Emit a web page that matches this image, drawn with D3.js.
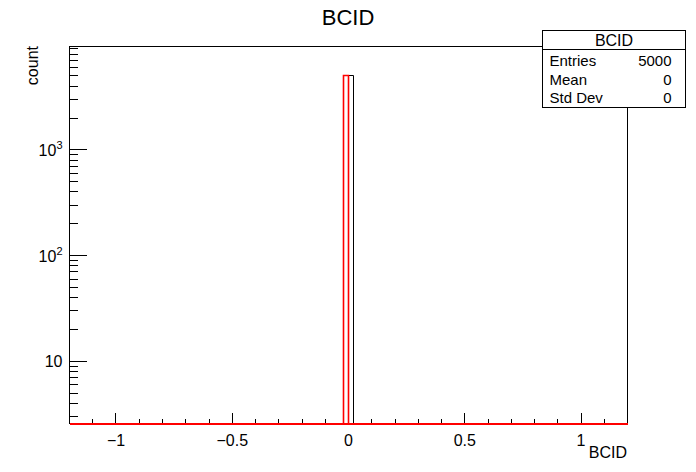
<!DOCTYPE html>
<html>
<head>
<meta charset="utf-8">
<script src="https://cdn.jsdelivr.net/npm/d3@7"></script>
<style>
  body { margin: 0; background: #fff; }
  text { font-family: "Liberation Sans", Arial, sans-serif; fill: #000; }
  line, rect { shape-rendering: crispEdges; }
</style>
</head>
<body>
<svg id="chart"></svg>
<script>
// Histogram data (bin edges + counts)
const blackBins = [{ x0: -0.02, x1: 0.02, count: 5000 }];
const redBins = [{ x0: -0.02, x1: 0.0, count: 5000 }];
const xTicks = [-1, -0.5, 0, 0.5, 1];
const yMajor = [10, 100, 1000];
const statsRows = [["Entries", "5000"], ["Mean", "0"], ["Std Dev", "0"]];

const W = 696, H = 472;
const margin = { top: 46, right: 69, bottom: 49, left: 69 };
const width = W - margin.left - margin.right,
      height = H - margin.top - margin.bottom;

const svg = d3.select("#chart").attr("width", W).attr("height", H);
const g = svg.append("g").attr("transform", `translate(${margin.left + 0.5},${margin.top + 0.5})`);

const x = d3.scaleLinear().domain([-1.2, 1.2]).range([0, width]);
const y = d3.scaleLog().domain([2.58, 9500]).range([height, 0]);
const px = v => Math.round(x(v));
const py = v => Math.round(y(v));

// frame
g.append("rect").attr("width", width).attr("height", height)
  .attr("fill", "none").attr("stroke", "#000");

// x ticks: major + minor, drawn upward from bottom
const xMinor = d3.range(-12, 13).map(i => i / 10);
g.selectAll(".xminor").data(xMinor).enter().append("line")
  .attr("x1", px).attr("x2", px)
  .attr("y1", height).attr("y2", d => xTicks.some(t => Math.abs(t - d) < 1e-9) ? height - 11 : height - 5)
  .attr("stroke", "#000");
g.selectAll(".xlab").data(xTicks).enter().append("text")
  .attr("x", d => x(d)).attr("y", height + 22)
  .attr("text-anchor", "middle").attr("font-size", 16)
  .text(d => d < 0 ? "\u2212" + Math.abs(d) : d);

// y ticks: log major + minor
const yMinor = [];
for (let dec = 1; dec <= 1000; dec *= 10)
  for (let k = 1; k <= 9; k++) {
    const v = k * dec;
    if (v >= y.domain()[0] && v <= y.domain()[1]) yMinor.push(v);
  }
g.selectAll(".ytick").data(yMinor).enter().append("line")
  .attr("x1", 0).attr("x2", d => yMajor.includes(d) ? 17 : 8)
  .attr("y1", py).attr("y2", py)
  .attr("stroke", "#000");

const yl = g.selectAll(".ylab").data(yMajor).enter().append("text")
  .attr("x", -7).attr("y", d => y(d) + 6)
  .attr("text-anchor", "end").attr("font-size", 16);
yl.each(function(d) {
  const t = d3.select(this);
  if (d === 10) { t.text("10"); return; }
  t.append("tspan").text("10");
  t.append("tspan").attr("font-size", 11).attr("dy", -7).text(Math.round(Math.log10(d)));
});

// histograms
function drawHist(bins, color, sw) {
  const pts = [[px(bins[0].x0), height]];
  bins.forEach(b => {
    pts.push([px(b.x0), py(b.count)]);
    pts.push([px(b.x1), py(b.count)]);
  });
  pts.push([px(bins[bins.length - 1].x1), height]);
  g.append("path").attr("d", d3.line()(pts))
    .attr("fill", "none").attr("stroke", color).attr("stroke-width", sw);
}
drawHist(blackBins, "#000", 1);
drawHist(redBins, "#ff0000", 1.6);
// red baseline across the whole axis
g.append("line").attr("x1", 0).attr("x2", width).attr("y1", height).attr("y2", height)
  .attr("stroke", "#ff0000").attr("stroke-width", 2);

// titles
svg.append("text").attr("x", 348).attr("y", 25).attr("text-anchor", "middle")
  .attr("font-size", 22).text("BCID");
svg.append("text").attr("x", margin.left + width).attr("y", 458).attr("text-anchor", "end")
  .attr("font-size", 16).text("BCID");
svg.append("text").attr("transform", "translate(38,46) rotate(-90)")
  .attr("text-anchor", "end").attr("font-size", 16).text("count");

// stats box
const bx = 542.5, by = 30.5, bw = 143, bh = 77;
const sb = svg.append("g");
sb.append("rect").attr("x", bx).attr("y", by).attr("width", bw).attr("height", bh)
  .attr("fill", "#fff").attr("stroke", "#000");
sb.append("line").attr("x1", bx).attr("x2", bx + bw).attr("y1", 49.5).attr("y2", 49.5).attr("stroke", "#000");
sb.append("text").attr("x", bx + bw / 2).attr("y", 46).attr("text-anchor", "middle")
  .attr("font-size", 16).text("BCID");
statsRows.forEach((r, i) => {
  const ty = 66 + i * 18.5;
  sb.append("text").attr("x", bx + 7).attr("y", ty).attr("font-size", 15).text(r[0]);
  sb.append("text").attr("x", bx + bw - 14).attr("y", ty).attr("text-anchor", "end")
    .attr("font-size", 15).text(r[1]);
});
</script>
</body>
</html>
